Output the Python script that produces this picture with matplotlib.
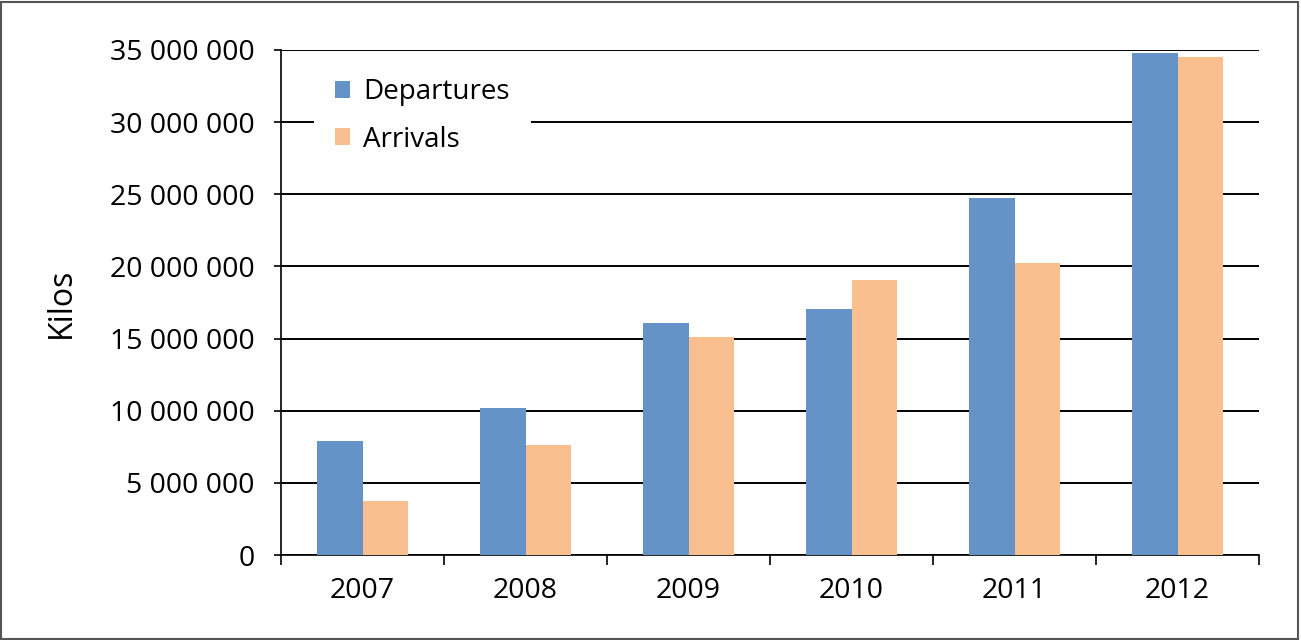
import matplotlib.pyplot as plt
import numpy as np
from matplotlib.patches import Rectangle

years = ["2007", "2008", "2009", "2010", "2011", "2012"]
departures = [7930000, 10200000, 16080000, 17050000, 24720000, 34770000]
arrivals = [3750000, 7650000, 15100000, 19030000, 20230000, 34490000]

BLUE = "#6592C7"
ORANGE = "#F9BF8F"

plt.rcParams["font.family"] = ["Open Sans", "DejaVu Sans"]

fig = plt.figure(figsize=(13.01, 6.40), dpi=100)
ax = fig.add_axes([281 / 1301, 1 - 555 / 640, 978 / 1301, 505 / 640])

x = np.arange(len(years))
w = 0.282
ax.bar(x - w / 2, departures, w, color=BLUE, label="Departures", zorder=3)
ax.bar(x + w / 2, arrivals, w, color=ORANGE, label="Arrivals", zorder=3)

ax.set_xlim(-0.5, len(years) - 0.5)
ax.set_ylim(0, 35000000)
yt = np.arange(0, 35000001, 5000000)
ax.set_yticks(yt)
ax.set_yticklabels([f"{v:,.0f}".replace(",", " ") for v in yt])
ax.yaxis.grid(True, color="black", linewidth=1.4, zorder=0)

# boundary ticks between categories, labels centred on the groups
ax.set_xticks(np.arange(-0.5, len(years), 1.0), minor=False)
ax.set_xticklabels([])
ax.set_xticks(x, minor=True)
ax.set_xticklabels(years, minor=True)
ax.tick_params(axis="x", which="major", direction="out", length=7, width=1.2)
ax.tick_params(axis="x", which="minor", length=0, pad=16, labelsize=20.5)
ax.tick_params(axis="y", direction="out", length=5, width=1.2, pad=14, labelsize=20.5)

for s in ["top", "right"]:
    ax.spines[s].set_visible(False)
for s in ["left", "bottom"]:
    ax.spines[s].set_linewidth(1.2)

ax.set_ylabel("Kilos", fontsize=23)
ax.yaxis.set_label_coords(-0.208, 0.5)

leg = ax.legend(loc="upper left", bbox_to_anchor=(0.034, 0.985), borderaxespad=0,
                frameon=True, fancybox=False, edgecolor="none", facecolor="white",
                framealpha=1, fontsize=20, handlelength=0.55, handleheight=0.55,
                handletextpad=0.47, labelspacing=0.69, borderpad=0.75)
leg.set_zorder(5)

fig.patches.append(Rectangle((0.001, 0.002), 0.997, 0.995, transform=fig.transFigure,
                             fill=False, edgecolor="#555555", linewidth=1.5))

fig.savefig("out.png", dpi=100)
